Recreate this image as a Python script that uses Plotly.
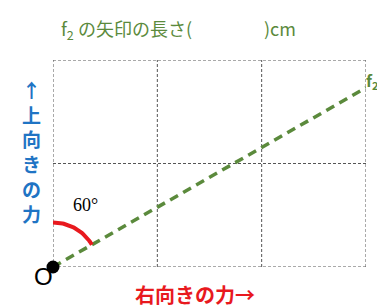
import numpy as np
import plotly.graph_objects as go

# data
grid_cols = [0, 1, 2, 3]
grid_rows = [0, 1, 2]
f2_angle_deg = 30          # angle from horizontal
f2_length = 2 * 3 ** 0.5   # reaches right edge x=3
angle_label = "60°"
title_text = "f<sub>2</sub> の矢印の長さ(　　　　)cm"
y_label = "↑<br>上<br>向<br>き<br>の<br>力"
x_label = "右向きの力→"

fig = go.Figure()

grid_color = "#555555"
for c in grid_cols:
    fig.add_trace(go.Scatter(x=[c, c], y=[grid_rows[0], grid_rows[-1]], mode="lines",
                             line=dict(color=grid_color, width=1, dash="3px,2px"),
                             hoverinfo="skip", showlegend=False))
for r in grid_rows:
    fig.add_trace(go.Scatter(x=[grid_cols[0], grid_cols[-1]], y=[r, r], mode="lines",
                             line=dict(color=grid_color, width=1, dash="3px,2px"),
                             hoverinfo="skip", showlegend=False))

# f2 vector
a = np.deg2rad(f2_angle_deg)
fx = f2_length * np.cos(a)
fy = f2_length * np.sin(a)
fig.add_trace(go.Scatter(x=[0, fx], y=[0, fy], mode="lines",
                         line=dict(color="#5b8a3c", width=3.5, dash="9px,6px"),
                         hoverinfo="skip", showlegend=False))

# angle arc from vertical to vector
arc_r = 0.43
th = np.linspace(np.deg2rad(90), a, 40)
fig.add_trace(go.Scatter(x=arc_r * np.cos(th), y=arc_r * np.sin(th), mode="lines",
                         line=dict(color="#e8191e", width=4),
                         hoverinfo="skip", showlegend=False))

# origin dot
fig.add_trace(go.Scatter(x=[0], y=[0], mode="markers",
                         marker=dict(color="black", size=13),
                         hoverinfo="skip", showlegend=False, cliponaxis=False))

font_jp = "Noto Sans CJK JP"
fig.add_annotation(x=0, y=0, xref="x", yref="y", text="O", showarrow=False,
                   xshift=-10, yshift=-9, font=dict(family="Liberation Sans", size=24, color="black"))
fig.add_annotation(x=0.31, y=0.6, xref="x", yref="y", text=angle_label, showarrow=False,
                   font=dict(family="Liberation Serif", size=18, color="black"))
fig.add_annotation(x=fx, y=fy, xref="x", yref="y", text="<b>f<sub>2</sub></b>", showarrow=False,
                   xanchor="left", xshift=-2, yshift=7,
                   font=dict(family=font_jp, size=16, color="#5b8a3c"))
fig.add_annotation(x=0.40, y=1.145, xref="paper", yref="paper", text=title_text, showarrow=False,
                   yanchor="middle", font=dict(family=font_jp, size=18, color="#5b8a3c"))
fig.add_annotation(x=-0.105, y=0.56, xref="paper", yref="paper", text="<b>" + y_label + "</b>",
                   showarrow=False, yanchor="middle",
                   font=dict(family=font_jp, size=19, color="#1f74c4"), align="center")
fig.add_annotation(x=0.454, y=-0.135, xref="paper", yref="paper", text="<b>" + x_label + "</b>",
                   showarrow=False, yanchor="middle",
                   font=dict(family=font_jp, size=20, color="#e8191e"))

fig.update_xaxes(range=[0, 3], visible=False, fixedrange=True)
fig.update_yaxes(range=[0, 2], visible=False, fixedrange=True)
# page body has an 8px margin, so the figure is sized and offset to fit the window
fig.update_layout(width=377, height=299,
                  margin=dict(l=45, r=19, t=52, b=40, autoexpand=False),
                  plot_bgcolor="white", paper_bgcolor="white", showlegend=False)

fig.write_html("out.html")
